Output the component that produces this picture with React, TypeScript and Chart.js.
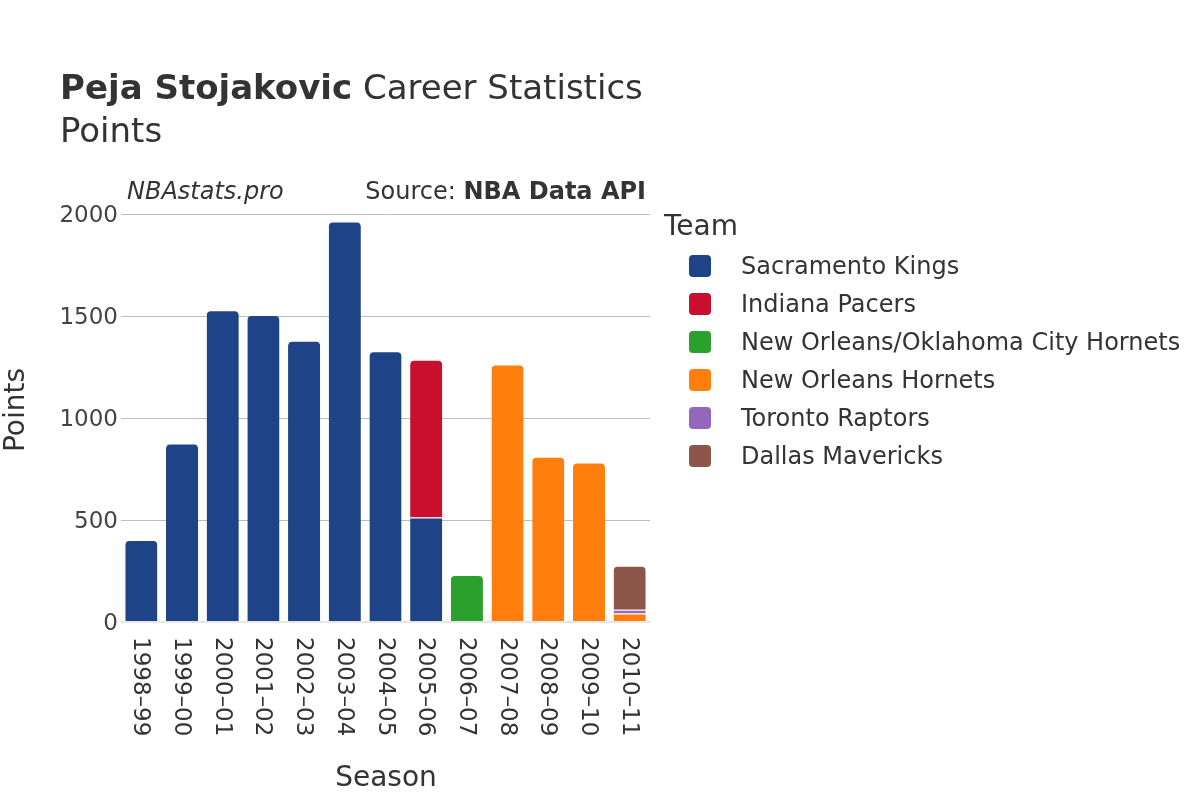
import React, { useEffect, useRef } from "react";
import { Chart, registerables } from "chart.js";

Chart.register(...registerables);

const seasons = ["1998–99", "1999–00", "2000–01", "2001–02", "2002–03", "2003–04", "2004–05", "2005–06", "2006–07", "2007–08", "2008–09", "2009–10", "2010–11"];
const teams = ["Sacramento Kings", "Indiana Pacers", "New Orleans/Oklahoma City Hornets", "New Orleans Hornets", "Toronto Raptors", "Dallas Mavericks"];
const teamColors = ["#1f4387", "#c8102e", "#2ca02c", "#ff7f0e", "#9467bd", "#8c564b"];
const sacramento = [402, 876, 1529, 1506, 1380, 1964, 1328, 513, null, null, null, null, null];
const indiana = [null, null, null, null, null, null, null, 773, null, null, null, null, null];
const noOkc = [null, null, null, null, null, null, null, null, 231, null, null, null, null];
const noHornets = [null, null, null, null, null, null, null, null, null, 1263, 810, 782, 42];
const toronto = [null, null, null, null, null, null, null, null, null, null, null, null, 18];
const dallas = [null, null, null, null, null, null, null, null, null, null, null, null, 216];
const seriesValues = [sacramento, indiana, noOkc, noHornets, toronto, dallas];
const yTicks = [0, 500, 1000, 1500, 2000];

const FONT = "'DejaVu Sans', sans-serif";
const TXT = "#333333";

function isTop(dsIndex: number, i: number) {
  for (let k = dsIndex + 1; k < seriesValues.length; k++) {
    const v = seriesValues[k][i];
    if (v != null && v !== 0) return false;
  }
  return true;
}

const overlay = {
  id: "overlay",
  afterDraw(chart: any) {
    const ctx = chart.ctx as CanvasRenderingContext2D;
    const xs = chart.scales.x;
    ctx.save();
    ctx.fillStyle = TXT;
    ctx.textBaseline = "middle";
    // Title
    ctx.textAlign = "left";
    ctx.font = `bold 34px ${FONT}`;
    const boldTxt = "Peja Stojakovic";
    ctx.fillText(boldTxt, 60, 90);
    const bw = ctx.measureText(boldTxt).width;
    ctx.font = `34px ${FONT}`;
    ctx.fillText(" Career Statistics", 60 + bw, 90);
    ctx.fillText("Points", 60, 133);
    // Sub line
    ctx.font = `italic 24px ${FONT}`;
    ctx.fillText("NBAstats.pro", 127, 193);
    ctx.textAlign = "right";
    ctx.font = `bold 24px ${FONT}`;
    const src = "NBA Data API";
    ctx.fillText(src, 646, 193);
    const sw = ctx.measureText(src).width;
    ctx.font = `24px ${FONT}`;
    ctx.fillText("Source: ", 646 - sw, 193);
    // Axis titles
    ctx.textAlign = "center";
    ctx.font = `28px ${FONT}`;
    ctx.fillText("Season", 386, 779);
    ctx.save();
    ctx.translate(17, 410);
    ctx.rotate(-Math.PI / 2);
    ctx.fillText("Points", 0, 0);
    ctx.restore();
    // X tick labels rotated clockwise
    ctx.font = `23px ${FONT}`;
    ctx.textAlign = "left";
    seasons.forEach((s, i) => {
      const x = xs.getPixelForValue(i);
      ctx.save();
      ctx.translate(x, 637);
      ctx.rotate(Math.PI / 2);
      ctx.fillText(s, 0, 1);
      ctx.restore();
    });
    // Legend
    ctx.textAlign = "left";
    ctx.font = `28px ${FONT}`;
    ctx.fillText("Team", 664, 228);
    ctx.font = `24px ${FONT}`;
    teams.forEach((t, i) => {
      const y = 266 + i * 38;
      ctx.fillStyle = teamColors[i];
      ctx.beginPath();
      (ctx as any).roundRect(689, y - 11, 22, 22, 4);
      ctx.fill();
      ctx.fillStyle = TXT;
      ctx.fillText(t, 741, y + 1.5);
    });
    ctx.restore();
  },
};

export default function App() {
  const ref = useRef<HTMLCanvasElement | null>(null);
  useEffect(() => {
    document.body.style.margin = "0";
    const canvas = ref.current!;
    const chart = new Chart(canvas, {
      type: "bar",
      data: {
        labels: seasons,
        datasets: teams.map((t, k) => ({
          label: t,
          data: seriesValues[k] as any,
          backgroundColor: teamColors[k],
          borderColor: "#ffffff",
          borderWidth: { top: 1, left: 0, right: 0, bottom: 0 } as any,
          borderSkipped: "start" as any,
          borderRadius: ((c: any) => (isTop(c.datasetIndex, c.dataIndex) ? { topLeft: 5, topRight: 5, bottomLeft: 0, bottomRight: 0 } : 0)) as any,
          categoryPercentage: 1,
          barPercentage: 0.79,
        })),
      },
      options: {
        animation: false,
        responsive: false,
        devicePixelRatio: 1,
        layout: { padding: { top: 200, right: 550, left: 0, bottom: 0 } },
        plugins: { legend: { display: false }, title: { display: false }, tooltip: { enabled: false } },
        scales: {
          x: {
            stacked: true,
            grid: { display: false },
            border: { display: false },
            ticks: { display: false },
            afterFit: (s: any) => { s.height = 178; },
          },
          y: {
            stacked: true,
            min: 0,
            max: 2070,
            border: { display: false },
            grid: {
              drawTicks: false,
              color: (c: any) => (c.tick && c.tick.value === 0 ? "#e6e6e6" : "#bdbdbd"),
              lineWidth: (c: any) => (c.tick && c.tick.value === 0 ? 2 : 1),
            },
            ticks: {
              stepSize: 500,
              padding: 3,
              labelOffset: 2,
              color: "#444444",
              font: { family: FONT, size: 23 },
              callback: (v: any) => String(v),
            },
            afterBuildTicks: (s: any) => { s.ticks = yTicks.map((v) => ({ value: v })); },
            afterFit: (s: any) => { s.width = 121; },
          },
        },
      },
      plugins: [overlay],
    });
    return () => chart.destroy();
  }, []);
  return (
    <div style={{ position: "absolute", left: 0, top: 0, width: 1200, height: 800 }}>
      <canvas ref={ref} width={1200} height={800} />
    </div>
  );
}
